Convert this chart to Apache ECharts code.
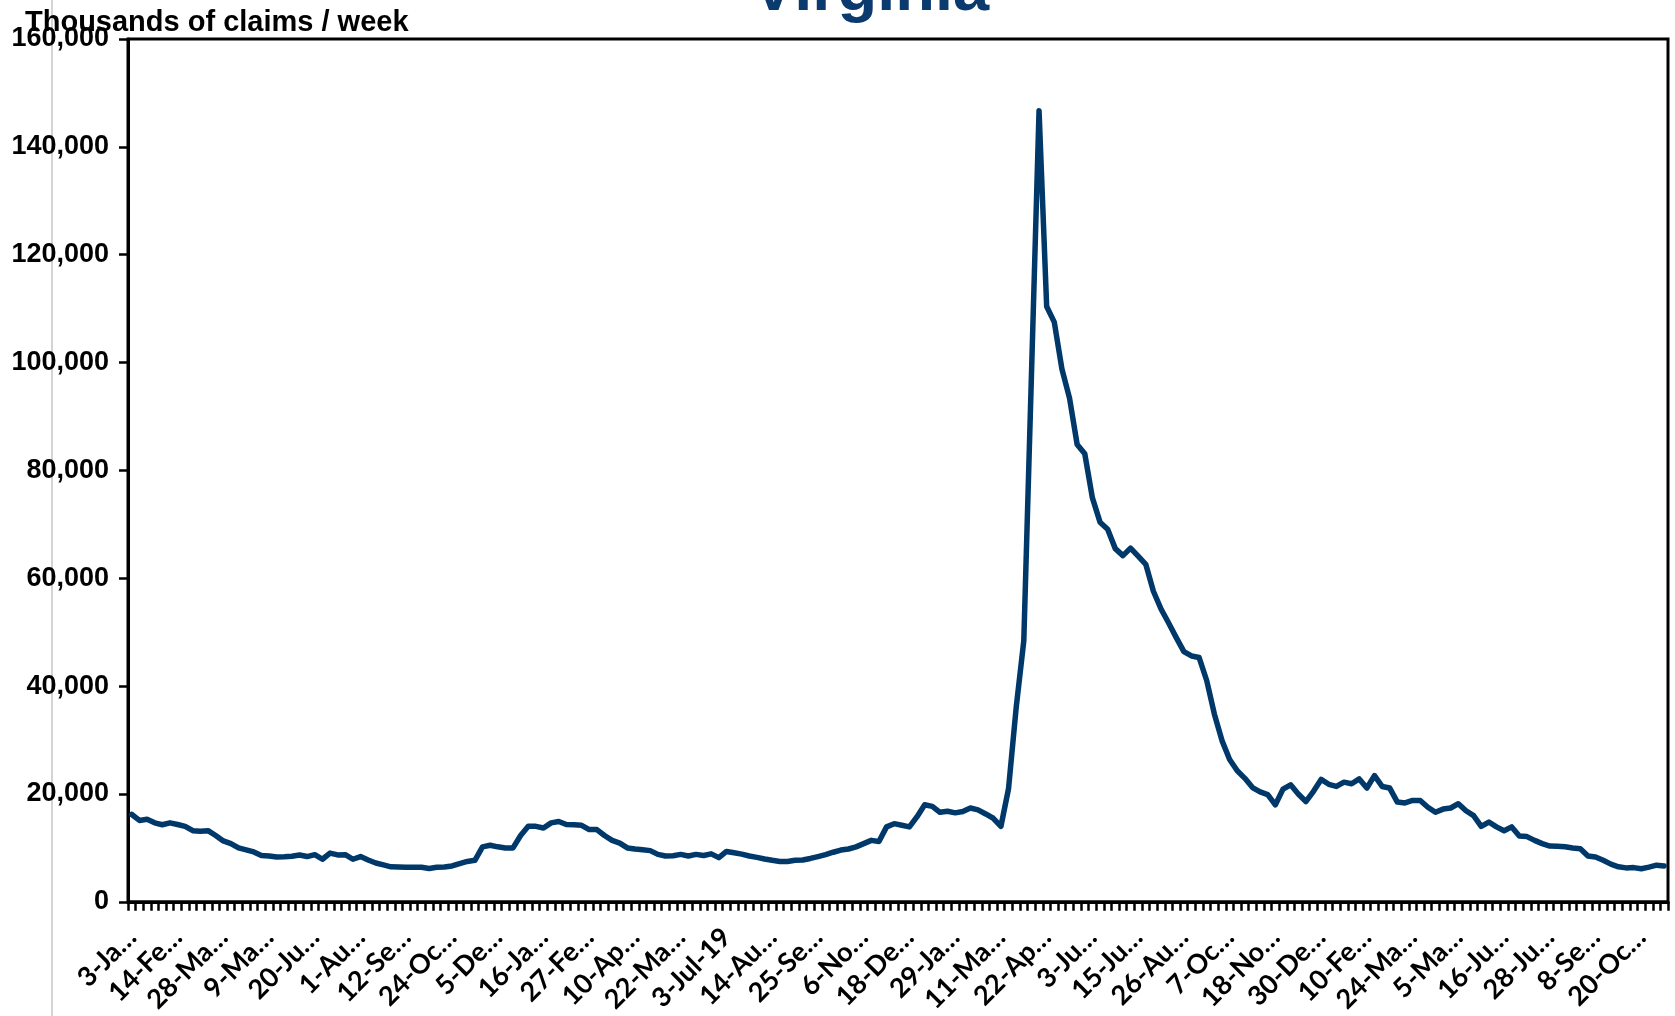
<!DOCTYPE html>
<html>
<head>
<meta charset="utf-8">
<script src="https://cdn.jsdelivr.net/npm/echarts@6/dist/echarts.min.js"></script>
<style>
html,body{margin:0;padding:0;background:#fff;}
#c{width:1675px;height:1016px;}
</style>
</head>
<body>
<div id="c"></div>
<script>
// Weekly categories (3-Jan-18 .. 10-Nov-21)
const categories = [
"3-Jan-18","10-Jan-18","17-Jan-18","24-Jan-18","31-Jan-18","7-Feb-18","14-Feb-18","21-Feb-18","28-Feb-18","7-Mar-18","14-Mar-18","21-Mar-18","28-Mar-18","4-Apr-18","11-Apr-18","18-Apr-18","25-Apr-18","2-May-18","9-May-18","16-May-18","23-May-18","30-May-18","6-Jun-18","13-Jun-18","20-Jun-18","27-Jun-18","4-Jul-18","11-Jul-18","18-Jul-18","25-Jul-18","1-Aug-18","8-Aug-18","15-Aug-18","22-Aug-18","29-Aug-18","5-Sep-18","12-Sep-18","19-Sep-18","26-Sep-18","3-Oct-18","10-Oct-18","17-Oct-18","24-Oct-18","31-Oct-18","7-Nov-18","14-Nov-18","21-Nov-18","28-Nov-18","5-Dec-18","12-Dec-18","19-Dec-18","26-Dec-18",
"2-Jan-19","9-Jan-19","16-Jan-19","23-Jan-19","30-Jan-19","6-Feb-19","13-Feb-19","20-Feb-19","27-Feb-19","6-Mar-19","13-Mar-19","20-Mar-19","27-Mar-19","3-Apr-19","10-Apr-19","17-Apr-19","24-Apr-19","1-May-19","8-May-19","15-May-19","22-May-19","29-May-19","5-Jun-19","12-Jun-19","19-Jun-19","26-Jun-19","3-Jul-19","10-Jul-19","17-Jul-19","24-Jul-19","31-Jul-19","7-Aug-19","14-Aug-19","21-Aug-19","28-Aug-19","4-Sep-19","11-Sep-19","18-Sep-19","25-Sep-19","2-Oct-19","9-Oct-19","16-Oct-19","23-Oct-19","30-Oct-19","6-Nov-19","13-Nov-19","20-Nov-19","27-Nov-19","4-Dec-19","11-Dec-19","18-Dec-19","25-Dec-19",
"1-Jan-20","8-Jan-20","15-Jan-20","22-Jan-20","29-Jan-20","5-Feb-20","12-Feb-20","19-Feb-20","26-Feb-20","4-Mar-20","11-Mar-20","18-Mar-20","25-Mar-20","1-Apr-20","8-Apr-20","15-Apr-20","22-Apr-20","29-Apr-20","6-May-20","13-May-20","20-May-20","27-May-20","3-Jun-20","10-Jun-20","17-Jun-20","24-Jun-20","1-Jul-20","8-Jul-20","15-Jul-20","22-Jul-20","29-Jul-20","5-Aug-20","12-Aug-20","19-Aug-20","26-Aug-20","2-Sep-20","9-Sep-20","16-Sep-20","23-Sep-20","30-Sep-20","7-Oct-20","14-Oct-20","21-Oct-20","28-Oct-20","4-Nov-20","11-Nov-20","18-Nov-20","25-Nov-20","2-Dec-20","9-Dec-20","16-Dec-20","23-Dec-20","30-Dec-20",
"6-Jan-21","13-Jan-21","20-Jan-21","27-Jan-21","3-Feb-21","10-Feb-21","17-Feb-21","24-Feb-21","3-Mar-21","10-Mar-21","17-Mar-21","24-Mar-21","31-Mar-21","7-Apr-21","14-Apr-21","21-Apr-21","28-Apr-21","5-May-21","12-May-21","19-May-21","26-May-21","2-Jun-21","9-Jun-21","16-Jun-21","23-Jun-21","30-Jun-21","7-Jul-21","14-Jul-21","21-Jul-21","28-Jul-21","4-Aug-21","11-Aug-21","18-Aug-21","25-Aug-21","1-Sep-21","8-Sep-21","15-Sep-21","22-Sep-21","29-Sep-21","6-Oct-21","13-Oct-21","20-Oct-21","27-Oct-21","3-Nov-21","10-Nov-21"
];

// Tick label texts as shown on the axis (every 6th week)
const tickLabels = ["3-Ja…","14-Fe…","28-Ma…","9-Ma…","20-Ju…","1-Au…","12-Se…","24-Oc…","5-De…","16-Ja…","27-Fe…","10-Ap…","22-Ma…","3-Jul-19","14-Au…","25-Se…","6-No…","18-De…","29-Ja…","11-Ma…","22-Ap…","3-Ju…","15-Ju…","26-Au…","7-Oc…","18-No…","30-De…","10-Fe…","24-Ma…","5-Ma…","16-Ju…","28-Ju…","8-Se…","20-Oc…"];

// Claims per week
const claims2018 = [16200,15100,15300,14650,14300,14650,14350,14000,13200,13100,13200,12300,11300,10800,10000,9650,9250,8600,8500,8300,8350,8450,8700,8400,8750,7900,9050,8700,8750,7900,8400,7750,7200,6850,6500,6450,6400,6400,6400,6200,6400,6450,6650,7100,7500,7700,10200,10500,10200,10000,10000,12300];
const claims2019 = [14000,14000,13700,14650,14900,14350,14300,14200,13400,13400,12300,11400,10900,10000,9800,9650,9500,8800,8500,8560,8800,8500,8800,8600,8900,8200,9350,9100,8850,8500,8250,7950,7700,7500,7500,7700,7750,8050,8400,8750,9200,9600,9800,10200,10800,11400,11200,13900,14500,14200,13900,15800];
const claims2020 = [18000,17700,16600,16800,16500,16750,17400,17050,16300,15500,14000,21000,36000,48400,97500,146700,110400,107500,98800,93400,84800,83100,74900,70400,69100,65500,64200,65600,64100,62600,57600,54300,51700,49000,46400,45600,45300,41000,34800,29900,26400,24300,22900,21200,20400,19900,18000,20900,21700,20000,18600,20500,22700];
const claims2021 = [21800,21400,22200,21900,22800,21100,23400,21400,21100,18500,18350,18800,18800,17550,16600,17200,17400,18200,16900,16000,14000,14800,13900,13200,13900,12200,12100,11400,10800,10350,10300,10200,10000,9850,8500,8300,7700,7000,6500,6300,6350,6150,6450,6800,6650];
const claims = claims2018.concat(claims2019, claims2020, claims2021);

const yTicks = {min: 0, max: 160000, step: 20000};

const chart = echarts.init(document.getElementById('c'), null, {renderer: 'canvas'});
chart.setOption({
  animation: false,
  backgroundColor: '#ffffff',
  title: {
    text: 'Virginia',
    left: 747,
    top: -45,
    textStyle: {fontFamily: '"Liberation Sans", Arial, sans-serif', fontWeight: 'bold', fontSize: 65, color: '#0b3b6e'}
  },
  graphic: [
    {type: 'line', shape: {x1: 52, y1: 0, x2: 52, y2: 1016}, style: {stroke: '#d4d4d4', lineWidth: 2}, silent: true},
    {type: 'text', left: 25, top: 8, style: {text: 'Thousands of claims / week', font: 'bold 29px "Liberation Sans", Arial, sans-serif', fill: '#000'}}
  ],
  grid: {left: 128, right: 7, top: 39, bottom: 111, show: true, borderColor: '#000', borderWidth: 3, containLabel: false},
  xAxis: {
    type: 'category',
    data: categories,
    boundaryGap: true,
    axisLine: {show: true, lineStyle: {color: '#000', width: 3}},
    axisTick: {show: true, interval: 0, length: 9, lineStyle: {color: '#000', width: 2.5}},
    axisLabel: {
      interval: 5,
      rotate: 45,
      margin: 31,
      color: '#000',
      fontFamily: 'Lato, "Open Sans", sans-serif',
      fontWeight: 'bold',
      fontSize: 27,
      formatter: function (v, i) { return tickLabels[Math.round(i / 6)] || ''; }
    },
    splitLine: {show: false}
  },
  yAxis: {
    type: 'value',
    min: yTicks.min,
    max: yTicks.max,
    interval: yTicks.step,
    axisLine: {show: true, lineStyle: {color: '#000', width: 3}},
    axisTick: {show: true, length: 9, lineStyle: {color: '#000', width: 2.5}},
    splitLine: {show: false},
    axisLabel: {
      margin: 19,
      color: '#000',
      fontFamily: '"Liberation Sans", Arial, sans-serif',
      fontWeight: 'bold',
      fontSize: 27,
      formatter: function (v) { return v.toLocaleString('en-US'); }
    }
  },
  series: [{
    name: 'Virginia',
    type: 'line',
    data: claims,
    showSymbol: false,
    symbol: 'none',
    smooth: false,
    lineStyle: {color: '#00386a', width: 5.5, join: 'round', cap: 'round'}
  }]
});
</script>
</body>
</html>
